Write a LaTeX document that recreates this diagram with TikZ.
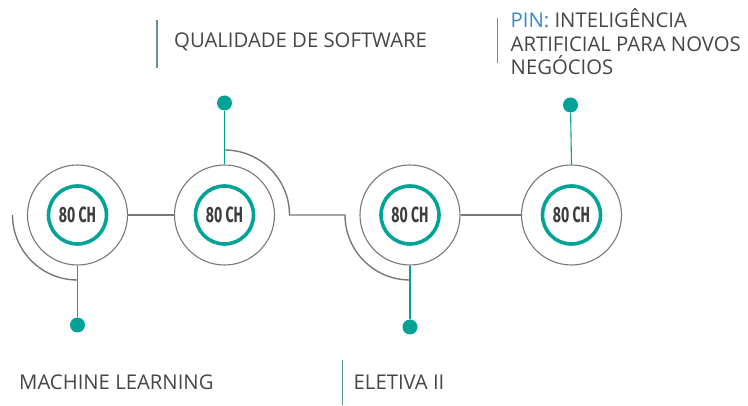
\documentclass[tikz,border=0pt]{standalone}
\usepackage{fontspec}
\setmainfont{Open Sans}
\newfontfamily\condfont[FakeStretch=0.64]{Fira Sans}
\definecolor{tealc}{RGB}{0,163,150}
\definecolor{grayc}{RGB}{120,120,120}
\definecolor{barc}{RGB}{95,150,145}
\definecolor{txtc}{RGB}{70,70,70}
\definecolor{pinc}{RGB}{60,135,200}
\definecolor{numc}{RGB}{60,60,60}
\tikzset{
  outer/.style={circle, draw=grayc, line width=1.1pt, minimum size=100pt, inner sep=0pt},
  inner/.style={circle, draw=tealc, line width=3.6pt, minimum size=58pt, inner sep=0pt,
    font=\condfont\bfseries\fontsize{22}{22}\selectfont, text=numc},
  conn/.style={draw=grayc, line width=1.4pt},
  stem/.style={draw=tealc, line width=1.1pt},
  dot/.style={circle, fill=tealc, minimum size=15pt, inner sep=0pt},
  bar/.style={draw=barc, line width=1.3pt},
  label/.style={anchor=west, inner sep=0pt, text=txtc, font=\fontsize{20.3}{23.5}\selectfont, align=left}
}
\begin{document}
\begin{tikzpicture}[x=1pt,y=-1pt]
\useasboundingbox (0,0) rectangle (748,406);
% circles
\node[outer] (c1) at (77.5,215) {};
\node[inner] (i1) at (c1) {80 CH};
\node[outer] (c2) at (224.5,215) {};
\node[inner] (i2) at (c2) {80 CH};
\node[outer] (c3) at (410,215) {};
\node[inner] (i3) at (c3) {80 CH};
\node[outer] (c4) at (571.5,215) {};
\node[inner] (i4) at (c4) {80 CH};
% connectors
\draw[conn] (c1.east) -- (c2.west);
\draw[conn] (c3.east) -- (c4.west);
% arcs
\coordinate (a1) at (12.5,215);
\draw[conn] (a1) arc[start angle=180, end angle=90, radius=65];
\coordinate (a2) at (224.5,150);
\coordinate (a4) at (345,215);
\draw[conn] (a2) arc[start angle=270, end angle=360, radius=65] -- (a4)
  arc[start angle=180, end angle=90, radius=65];
% dots and stems
\node[dot] (d1) at (77.5,325) {};
\node[dot] (d2) at (224.5,103) {};
\node[dot] (d3) at (410,327) {};
\node[dot] (d4) at (570.5,105) {};
\draw[stem] (c1.south) -- (d1);
\draw[stem] (c2.north) -- (d2);
\draw[stem] (c3.south) -- (d3);
\draw[stem] (c4.north) -- (d4);
% labels
\draw[bar] (157,20) -- (157,68);
\node[label] (t2) at (174,42) {QUALIDADE DE SOFTWARE};
\draw[bar] (497.5,18) -- (497.5,63);
\node[label] (t4) at (510.5,42) {\textcolor{pinc}{PIN:} INTELIGÊNCIA\\ARTIFICIAL PARA NOVOS\\NEGÓCIOS};
\node[label] (t1) at (19,382) {MACHINE LEARNING};
\draw[bar] (342.5,360) -- (342.5,405);
\node[label] (t3) at (353.5,382) {ELETIVA II};
\end{tikzpicture}
\end{document}
